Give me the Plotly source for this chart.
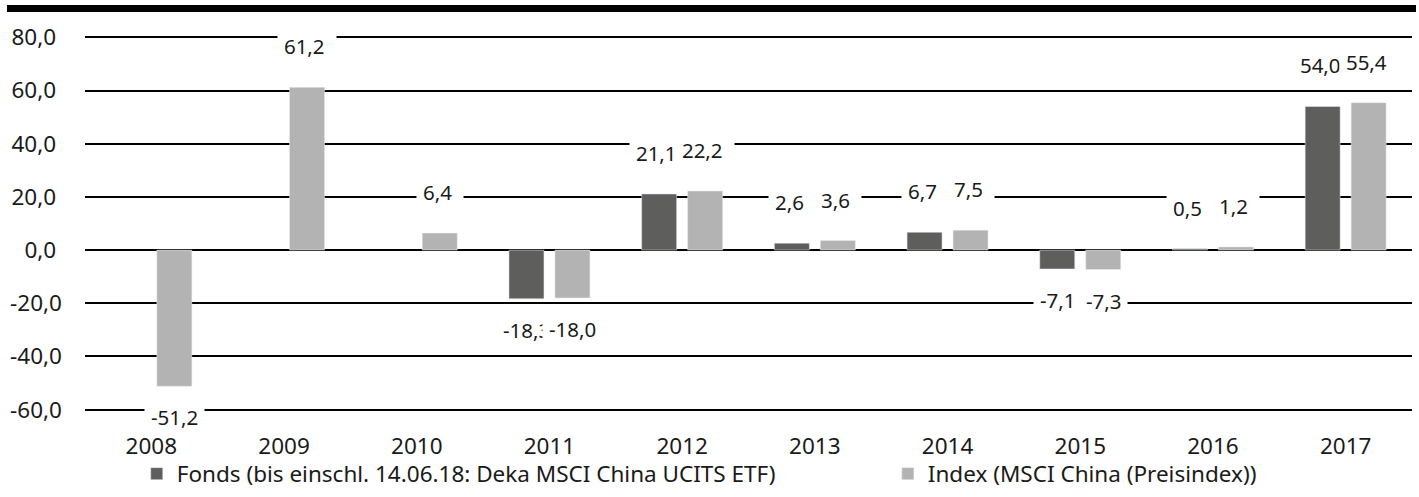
import plotly.graph_objects as go

years = ["2008", "2009", "2010", "2011", "2012", "2013", "2014", "2015", "2016", "2017"]
fonds = [None, None, None, -18.3, 21.1, 2.6, 6.7, -7.1, 0.5, 54.0]
index = [-51.2, 61.2, 6.4, -18.0, 22.2, 3.6, 7.5, -7.3, 1.2, 55.4]
fonds_name = "Fonds (bis einschl. 14.06.18: Deka MSCI China UCITS ETF)"
index_name = "Index (MSCI China (Preisindex))"
ytick_vals = [-60, -40, -20, 0, 20, 40, 60, 80]

DARK = "#5e5e5c"
LIGHT = "#b3b3b3"
FONT = "Noto Sans"
TXT = "#1a1a1a"
LBL_SIZE = 20.5


def fmt(v):
    s = f"{abs(v):.1f}".replace(".", ",")
    return "-" + s if v < 0 else s + "\u00a0"


def text_width(s, size):
    em = {",": 0.26, "-": 0.322, "\u00a0": 0.26}
    return sum(em.get(c, 0.572) for c in s) * size


fig = go.Figure()
fig.add_trace(go.Bar(x=years, y=fonds, name=fonds_name, marker_color=DARK, legend="legend"))
fig.add_trace(go.Bar(x=years, y=index, name=index_name, marker_color=LIGHT, legend="legend2"))

BARGAP = 0.307
CATW = 132.7
SLOT = CATW * (1 - BARGAP) / 2

annotations = []
for series, dx in ((fonds, -SLOT / 2), (index, SLOT / 2)):
    for i, v in enumerate(series):
        if v is None:
            continue
        t = fmt(v)
        annotations.append(dict(
            x=i, y=v, xref="x", yref="y", text=t, showarrow=False,
            xshift=dx, yshift=41 if v >= 0 else -31, yanchor="middle",
            width=text_width(t, LBL_SIZE) + 10, align="center",
            bgcolor="white", borderpad=1,
            font=dict(family=FONT, size=LBL_SIZE, color=TXT),
        ))

leg_common = dict(orientation="h", yanchor="middle", y=-0.168, xanchor="left",
                  font=dict(family=FONT, size=22.5, color=TXT), itemwidth=30,
                  bgcolor="rgba(0,0,0,0)")

fig.update_layout(
    width=1419, height=497,
    margin=dict(l=85, r=7, t=36, b=86, autoexpand=False),
    paper_bgcolor="white", plot_bgcolor="white",
    barmode="group", bargap=BARGAP, bargroupgap=0.239,
    font=dict(family=FONT, size=22.5, color=TXT),
    showlegend=True,
    legend=dict(x=0.039, **leg_common),
    legend2=dict(x=0.605, **leg_common),
    annotations=annotations,
    shapes=[dict(type="line", xref="paper", yref="paper",
                 x0=-0.0588, x1=1.003, y0=1.0733, y1=1.0733,
                 line=dict(color="black", width=7))],
)
fig.update_xaxes(type="category", range=[-0.5, len(years) - 0.5],
                 showgrid=False, showline=False, ticks="",
                 ticklabelstandoff=19, tickfont=dict(size=22.5))
fig.update_yaxes(range=[-60.5, 80.5], tickvals=ytick_vals,
                 ticktext=[fmt(v) for v in ytick_vals],
                 showgrid=True, gridcolor="black", gridwidth=2,
                 zeroline=True, zerolinecolor="black", zerolinewidth=2,
                 showline=False, ticks="", ticklabelstandoff=22,
                 tickfont=dict(size=22.5))

fig.write_html("out.html", config={"displayModeBar": False},
               post_script="document.body.style.margin='0';")
